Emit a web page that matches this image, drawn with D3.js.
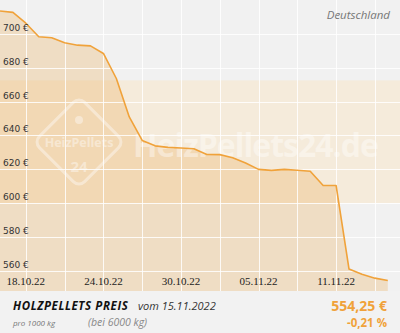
<!DOCTYPE html>
<html><head><meta charset="utf-8">
<script src="https://cdn.jsdelivr.net/npm/d3@7"></script>
<style>html,body{margin:0;padding:0;background:#f2f2f2;}svg{display:block;}</style>
</head><body>
<svg id="c" width="400" height="333"></svg>
<script>
const dates = ["16.10.22","17.10.22","18.10.22","19.10.22","20.10.22","21.10.22","22.10.22","23.10.22","24.10.22","25.10.22","26.10.22","27.10.22","28.10.22","29.10.22","30.10.22","31.10.22","01.11.22","02.11.22","03.11.22","04.11.22","05.11.22","06.11.22","07.11.22","08.11.22","09.11.22","10.11.22","11.11.22","12.11.22","13.11.22","14.11.22","15.11.22"];
const prices = [713.5,712.7,706.3,698.3,697.7,694.7,693.3,692.9,688.4,673.6,650.9,637.0,633.8,632.9,632.5,632.1,628.7,628.6,626.8,623.7,619.9,619.3,619.9,619.4,618.8,610.4,610.4,561.0,557.9,555.6,554.25];
const yTicks = [560,580,600,620,640,660,680,700];
const xLabelDates = ["18.10.22","24.10.22","30.10.22","05.11.22","11.11.22"];
const xGridDates = ["18.10.22","21.10.22","24.10.22","27.10.22","30.10.22","02.11.22","05.11.22","08.11.22","11.11.22","14.11.22"];
const band = [600, 672.5];
const yDomain = [548, 720];

const parse = d3.timeParse("%d.%m.%y");
const data = dates.map((d,i)=>({date: parse(d), v: prices[i]}));

const svg = d3.select("#c");
const W = 400, H = 291;
const x = d3.scaleTime().domain([parse("16.10.22"), parse("15.11.22")]).range([0, 387.8]);
const y = d3.scaleLinear().domain(yDomain).range([H, 0]);

svg.append("rect").attr("x",0).attr("y",0).attr("width",W).attr("height",H).attr("fill","#f1f1f1");
svg.append("rect").attr("x",0).attr("width",W)
  .attr("y", y(band[1])).attr("height", y(band[0]) - y(band[1]))
  .attr("fill","#f5ebdb");

const area = d3.area().x(d=>x(d.date)).y0(H).y1(d=>y(d.v));
svg.append("path").datum(data).attr("d", area).attr("fill","rgba(232,168,80,0.28)");

const g = svg.append("g");
g.selectAll("line.h").data(yTicks).join("line")
  .attr("x1",0).attr("x2",W).attr("y1",d=>Math.round(y(d))+0.5).attr("y2",d=>Math.round(y(d))+0.5)
  .attr("stroke","#ffffff").attr("stroke-opacity",0.85).attr("stroke-width",1);
g.selectAll("line.v").data(xGridDates).join("line")
  .attr("y1",0).attr("y2",H)
  .attr("x1",d=>Math.round(x(parse(d)))+0.5).attr("x2",d=>Math.round(x(parse(d)))+0.5)
  .attr("stroke","#ffffff").attr("stroke-opacity",0.85).attr("stroke-width",1);

// watermark
const wm = svg.append("g").attr("fill","#ffffff").attr("opacity",0.4);
wm.append("text").attr("x",133).attr("y",157).attr("font-family","Open Sans, sans-serif")
  .attr("font-weight","bold").attr("font-size",32).attr("letter-spacing",-1).text("HeizPellets24.de");
const logo = svg.append("g").attr("opacity",0.4);
logo.append("rect").attr("x",-32).attr("y",-32).attr("width",64).attr("height",64).attr("rx",8)
  .attr("transform","translate(79,142) rotate(45)")
  .attr("fill","none").attr("stroke","#ffffff").attr("stroke-width",3);
logo.append("text").attr("x",79).attr("y",147).attr("text-anchor","middle").attr("fill","#fff")
  .attr("font-family","Open Sans, sans-serif").attr("font-weight","bold").attr("font-size",12.5).text("HeizPellets");
logo.append("text").attr("x",79).attr("y",172).attr("text-anchor","middle").attr("fill","#fff")
  .attr("font-family","Open Sans, sans-serif").attr("font-weight","bold").attr("font-size",15).text("24");
logo.append("circle").attr("cx",79).attr("cy",120).attr("r",4).attr("fill","#fff");

const line = d3.line().x(d=>x(d.date)).y(d=>y(d.v));
svg.append("path").datum(data).attr("d", line).attr("fill","none")
  .attr("stroke","#f0a23a").attr("stroke-width",1.6).attr("stroke-linejoin","round");

svg.append("g").selectAll("text").data(yTicks).join("text")
  .attr("x",3).attr("y",d=>y(d)-3)
  .attr("font-family","DejaVu Sans, sans-serif").attr("font-size",9).attr("fill","#333")
  .text(d=>d+" €");

svg.append("g").selectAll("text").data(xLabelDates).join("text")
  .attr("x",d=>x(parse(d))).attr("y",285).attr("text-anchor","middle")
  .attr("font-family","Liberation Serif, serif").attr("font-size",11).attr("fill","#222")
  .text(d=>d);

svg.append("text").attr("x",390).attr("y",19).attr("text-anchor","end")
  .attr("font-family","Open Sans, sans-serif").attr("font-style","italic").attr("font-size",11.5)
  .attr("fill","#777").text("Deutschland");

svg.append("rect").attr("x",0).attr("y",H+1).attr("width",W).attr("height",333-H-1).attr("fill","#f2f2f2");
svg.append("text").attr("x",13).attr("y",310).attr("font-family","Open Sans, sans-serif")
  .attr("font-weight","bold").attr("font-style","italic").attr("font-size",11.5).attr("fill","#111")
  .attr("letter-spacing",0.6).text("HOLZPELLETS PREIS");
svg.append("text").attr("x",138).attr("y",310).attr("font-family","Open Sans, sans-serif")
  .attr("font-style","italic").attr("font-size",11).attr("fill","#333").text("vom 15.11.2022");
svg.append("text").attr("x",13).attr("y",326).attr("font-family","Open Sans, sans-serif")
  .attr("font-style","italic").attr("font-size",8).attr("fill","#777").text("pro 1000 kg");
svg.append("text").attr("x",88).attr("y",326).attr("font-family","Open Sans, sans-serif")
  .attr("font-style","italic").attr("font-size",10.5).attr("fill","#888").text("(bei 6000 kg)");
svg.append("text").attr("x",387).attr("y",311).attr("text-anchor","end").attr("font-family","Open Sans, sans-serif")
  .attr("font-weight","bold").attr("font-size",14).attr("fill","#f0a23a").text("554,25 €");
svg.append("text").attr("x",387).attr("y",327).attr("text-anchor","end").attr("font-family","Open Sans, sans-serif")
  .attr("font-weight","bold").attr("font-size",11.5).attr("fill","#f0a23a").text("-0,21 %");
</script>
</body></html>
